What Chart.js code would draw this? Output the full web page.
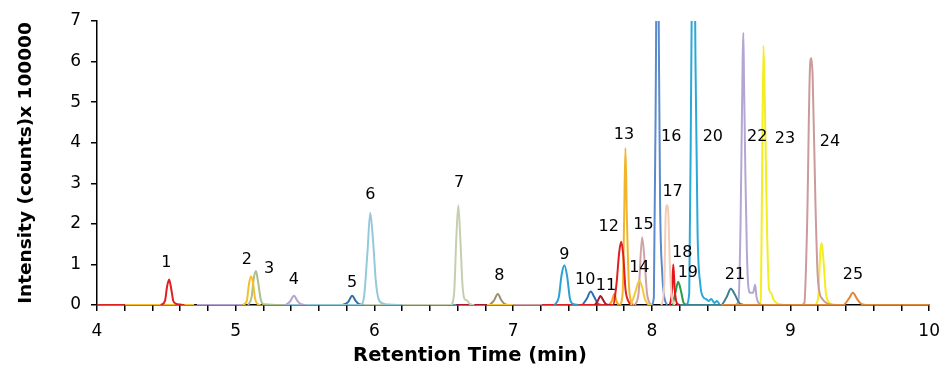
<!DOCTYPE html>
<html>
<head>
<meta charset="utf-8">
<script src="https://cdn.jsdelivr.net/npm/chart.js@4.4.1/dist/chart.umd.min.js"></script>
<style>
  html, body { margin: 0; padding: 0; background: #ffffff; }
  #wrap { width: 950px; height: 378px; }
</style>
</head>
<body>
<div id="wrap"><canvas id="c" width="950" height="378"></canvas></div>
<script>
// ---------- data: retention time (min) / intensity (x 100000) ----------
// null intensity = break in the trace
const baseRed   = [[4.0,0],[4.2,0],[4.46,null],[4.46,0],[4.49,0.1],[4.505,0.45],[4.52,0.63],[4.535,0.4],[4.55,0.1],[4.57,0.03],[4.6,0.01],[4.63,0]];
const peak2     = [[4.2,0],[4.7,0],[4.8,null],[5.05,0],[5.08,0.1],[5.095,0.5],[5.11,0.7],[5.125,0.55],[5.14,0.15],[5.16,0.02],[5.18,0]];
const peak4     = [[4.72,0],[5.05,0],[5.2,null],[5.36,0],[5.39,0.08],[5.42,0.23],[5.445,0.1],[5.47,0.02],[5.5,0]];
const peak3     = [[5.09,0],[5.115,0.2],[5.13,0.65],[5.146,0.84],[5.16,0.6],[5.18,0.15],[5.2,0.02],[5.35,0]];
const peak6     = [[5.2,0],[5.9,0],[5.925,0.2],[5.95,1.3],[5.97,2.27],[5.99,1.6],[6.01,0.6],[6.03,0.15],[6.06,0.04],[6.1,0.01],[6.2,0]];
const peak5     = [[5.77,0],[5.81,0.07],[5.84,0.23],[5.865,0.1],[5.89,0.02],[5.92,0]];
const peak7     = [[5.62,0],[6.55,0],[6.575,0.3],[6.59,1.6],[6.605,2.46],[6.62,1.6],[6.635,0.5],[6.65,0.15],[6.665,0.12],[6.69,0.02],[6.72,0]];
const peak9     = [[6.4,0],[6.59,0],[6.7,null],[7.3,0],[7.33,0.2],[7.35,0.75],[7.37,0.98],[7.39,0.7],[7.41,0.15],[7.43,0.03],[7.47,0]];
const peak11    = [[6.59,0],[6.81,0],[7.0,null],[7.59,0],[7.61,0.1],[7.63,0.22],[7.65,0.12],[7.67,0.02],[7.7,0]];
const peak8     = [[6.83,0],[6.86,0.1],[6.89,0.27],[6.915,0.12],[6.94,0.02],[6.97,0]];
const peak14    = [[6.81,0],[7.0,0],[7.2,null],[7.85,0],[7.88,0.3],[7.91,0.6],[7.93,0.45],[7.95,0.15],[7.97,0.03],[8.0,0]];
const peak15    = [[7.0,0],[7.21,0],[7.4,null],[7.88,0],[7.905,0.3],[7.93,1.67],[7.95,1.0],[7.965,0.3],[7.98,0.08],[8.0,0]];
const peak12    = [[7.21,0],[7.72,0],[7.745,0.5],[7.765,1.3],[7.78,1.56],[7.795,1.2],[7.81,0.4],[7.83,0.1],[7.86,0]];
const peak10    = [[7.5,0],[7.53,0.15],[7.56,0.33],[7.585,0.2],[7.61,0.04],[7.64,0]];
const peakSmall = [[7.69,0],[7.71,0.08],[7.73,0.27],[7.745,0.1],[7.76,0]];
const peak13    = [[7.77,0],[7.79,0.3],[7.80,2.0],[7.81,3.87],[7.82,2.2],[7.835,0.5],[7.85,0.1],[7.87,0]];
const peak16    = [[8.0,0],[8.015,0.2],[8.03,6.0],[8.04,12],[8.05,7.0],[8.06,2.5],[8.075,0.8],[8.09,0.2],[8.11,0]];
const peak17    = [[8.07,0],[8.09,0.5],[8.10,2.2],[8.11,2.46],[8.12,2.2],[8.13,1.0],[8.145,0.2],[8.165,0]];
const peak18    = [[8.13,0],[8.145,0.3],[8.155,1.0],[8.165,0.4],[8.18,0.05],[8.2,0]];
const peak19    = [[8.15,0],[8.17,0.3],[8.19,0.57],[8.21,0.35],[8.23,0.05],[8.26,0]];
const peak20    = [[8.25,0],[8.27,0.3],[8.285,6],[8.30,12],[8.315,6],[8.33,1.8],[8.35,0.5],[8.37,0.2],[8.39,0.15],[8.41,0.1],[8.43,0.15],[8.45,0.05],[8.47,0.1],[8.49,0]];
const baseOrange= [[8.5,0],[9.38,0],[9.42,0.15],[9.45,0.3],[9.48,0.15],[9.51,0.03],[9.55,0],[10,0]];
const peak21    = [[8.2,0],[8.5,0],[8.54,0.2],[8.57,0.4],[8.6,0.25],[8.63,0.05],[8.66,0]];
const peak22    = [[8.6,0],[8.625,0.1],[8.64,2],[8.655,6.0],[8.66,6.71],[8.665,5.5],[8.675,3.2],[8.685,1.4],[8.695,0.5],[8.71,0.3],[8.73,0.3],[8.745,0.5],[8.755,0.2],[8.77,0.05],[8.79,0]];
const peak23    = [[8.77,0],[8.785,0.1],[8.795,3],[8.805,6.39],[8.815,5],[8.83,2],[8.845,0.4],[8.86,0.3],[8.875,0.15],[8.9,0.05],[8.95,0]];
const peak24    = [[9.08,0],[9.1,0.05],[9.12,2],[9.14,5.8],[9.15,6.08],[9.16,5.6],[9.18,2.5],[9.195,0.8],[9.21,0.3],[9.23,0.15],[9.26,0.05],[9.3,0]];
const peak23b   = [[9.18,0],[9.2,0.2],[9.215,1.3],[9.225,1.53],[9.24,1.0],[9.255,0.3],[9.27,0.1],[9.3,0.02],[9.33,0]];

// traces in drawing order with their colours
const traces = [
  [baseOrange,'#E0883A'],
  [baseRed,'#E02020'],
  [peak2,'#F5BE2A'],
  [peak4,'#B3A3D3'],
  [peak3,'#A9BF8C'],
  [peak6,'#95C9D9'],
  [peak5,'#2F6EAA'],
  [peak7,'#C5CFAF'],
  [peak9,'#2AA0D4'],
  [peak11,'#B0142A'],
  [peak14,'#F5C842'],
  [peak8,'#9A9070'],
  [peak15,'#CFA2A2'],
  [peak12,'#E0201E'],
  [peak10,'#2E6FB0'],
  [peakSmall,'#F5A31A'],
  [peak13,'#F2B42A'],
  [peak17,'#F3CDB8'],
  [peak16,'#5A8ACB'],
  [peak18,'#E8141C'],
  [peak21,'#3A8090'],
  [peak19,'#2E9A4A'],
  [peak20,'#2AA8D8'],
  [peak22,'#B4A6D2'],
  [peak23,'#F2EE20'],
  [peak24,'#CC9A9A'],
  [peak23b,'#F2EE20']
];

// peak labels: text, retention time, height
const labelText  = ['1','2','3','4','5','6','7','8','9','10','11','12','13','14','15','16','17','18','19','20','21','22','23','24','25'];
const labelTime  = [4.50,5.08,5.24,5.42,5.84,5.97,6.61,6.90,7.37,7.52,7.67,7.69,7.80,7.91,7.94,8.14,8.15,8.22,8.26,8.44,8.60,8.76,8.96,9.285,9.45];
const labelValue = [1.03,1.11,0.90,0.63,0.55,2.71,3.02,0.71,1.23,0.63,0.47,1.93,4.19,0.92,1.97,4.15,2.79,1.29,0.80,4.15,0.74,4.15,4.10,4.02,0.74];

const xTitle = 'Retention Time (min)';
const yTitle = 'Intensity (counts)x 100000';

// ---------- chart ----------
const FONT = "'DejaVu Sans', Verdana, sans-serif";

const peakLabels = {
  id: 'peakLabels',
  afterDatasetsDraw(chart) {
    const {ctx, scales} = chart;
    ctx.save();
    ctx.fillStyle = '#000';
    ctx.font = '16px ' + FONT;
    ctx.textAlign = 'center';
    ctx.textBaseline = 'middle';
    labelText.forEach((t, i) => {
      ctx.fillText(t, scales.x.getPixelForValue(labelTime[i]), scales.y.getPixelForValue(labelValue[i]));
    });
    // x axis title (sits left of the plot centre in the original)
    ctx.font = 'bold 19.5px ' + FONT;
    ctx.fillText(xTitle, 470, 356);
    ctx.restore();
  }
};

const datasets = traces.map(([pts, col]) => ({
  data: pts.map(p => ({x: p[0], y: p[1]})),
  borderColor: col,
  borderWidth: 2,
  pointRadius: 0,
  fill: false,
  spanGaps: false,
  cubicInterpolationMode: 'monotone'
}));

new Chart(document.getElementById('c'), {
  type: 'line',
  data: { datasets },
  plugins: [peakLabels],
  options: {
    responsive: false,
    animation: false,
    events: [],
    layout: { padding: { top: 21, right: 20, left: 0, bottom: 0 } },
    plugins: { legend: { display: false }, tooltip: { enabled: false } },
    scales: {
      x: {
        type: 'linear', min: 4, max: 10,
        afterFit(s) { s.height = 73; },
        border: { color: '#000', width: 1.5 },
        grid: { drawOnChartArea: false, color: '#000', tickLength: 6, lineWidth: 1.5 },
        ticks: {
          stepSize: 0.2, autoSkip: false, maxRotation: 0, padding: 10,
          color: '#000', font: { family: FONT, size: 17 },
          callback: v => Math.abs(v - Math.round(v)) < 1e-6 ? String(Math.round(v)) : ''
        },
        title: { display: false }
      },
      y: {
        type: 'linear', min: 0, max: 7,
        afterFit(s) { s.width = 97; },
        border: { color: '#000', width: 1.5 },
        grid: { drawOnChartArea: false, color: '#000', tickLength: 6, lineWidth: 1.5 },
        ticks: { stepSize: 1, padding: 10, color: '#000', font: { family: FONT, size: 17 } },
        title: { display: true, text: yTitle, color: '#000',
                 font: { family: FONT, size: 18.5, weight: 'bold' }, padding: { top: 15, bottom: 0 } }
      }
    }
  }
});
</script>
</body>
</html>
